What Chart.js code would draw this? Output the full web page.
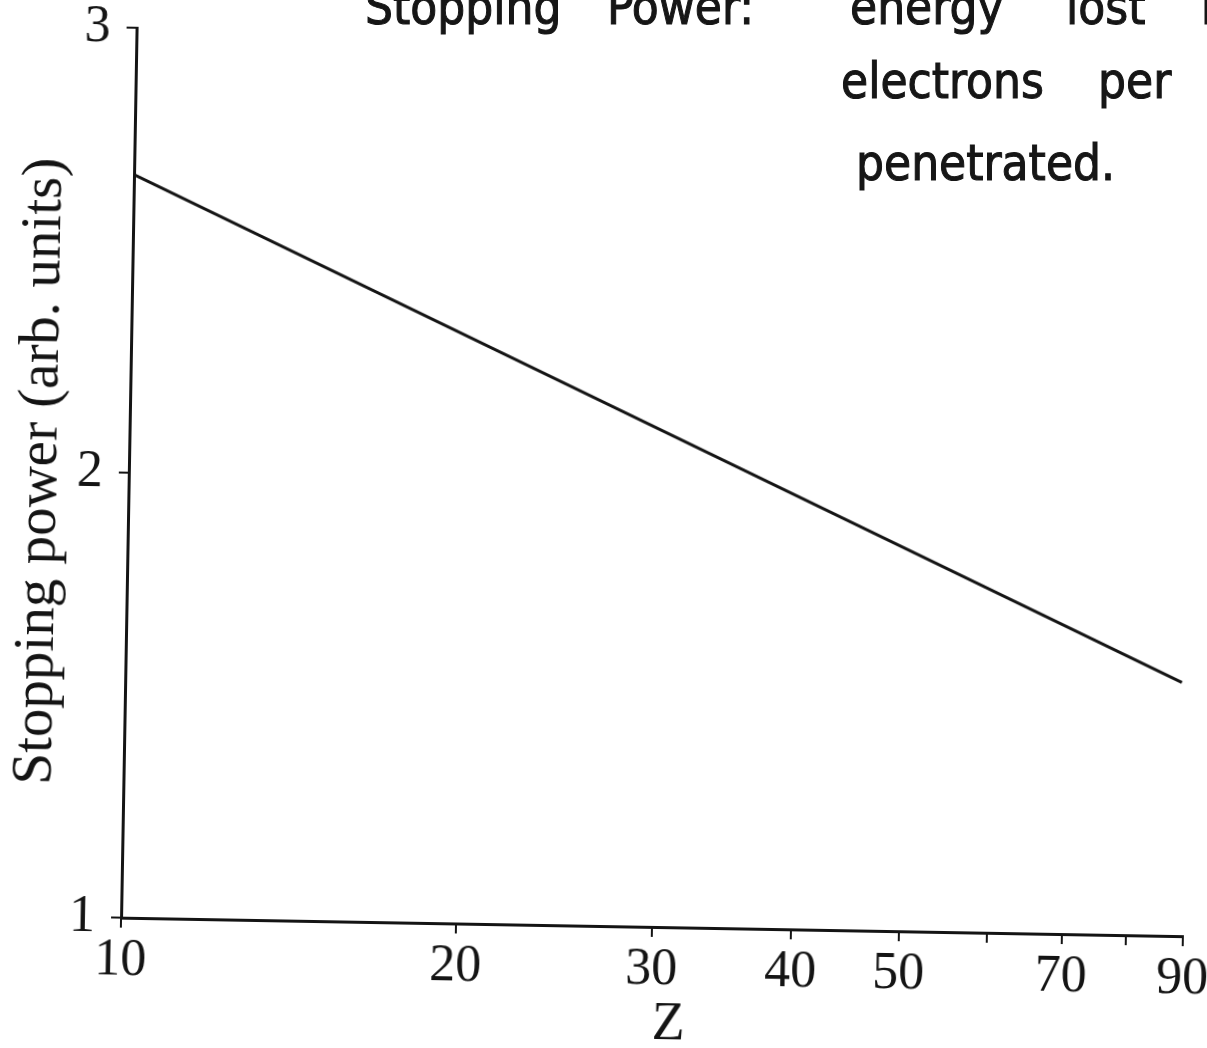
<!DOCTYPE html>
<html>
<head>
<meta charset="utf-8">
<script src="https://cdn.jsdelivr.net/npm/chart.js@4/dist/chart.umd.min.js"></script>
<style>
  html, body { margin: 0; padding: 0; background: #fff; overflow: hidden; }
  #page { position: relative; width: 1207px; height: 1048px; overflow: hidden; }
  /* the scan is turned about one degree clockwise; canvas is a bit wider so the "90" is cut by the page edge */
  #tilt { position: absolute; left: 0; top: 0; width: 1247px; height: 1048px;
          transform: rotate(1deg); transform-origin: 603.5px 524px; }
  .note { position: absolute; font-family: "DejaVu Sans Condensed", "DejaVu Sans", sans-serif;
          font-size: 49px; line-height: 1; color: #161616; white-space: nowrap;
          -webkit-text-stroke: 1px #161616; }
</style>
</head>
<body>
<div id="page">
  <div id="tilt"><canvas id="chart" width="1247" height="1048"></canvas></div>
  <span class="note" style="left:365px; top:-17px;">Stopping</span>
  <span class="note" style="left:607px; top:-17px;">Power:</span>
  <span class="note" style="left:850px; top:-17px;">energy</span>
  <span class="note" style="left:1066px; top:-17px;">lost</span>
  <span class="note" style="left:1201px; top:-17px;">by</span>
  <span class="note" style="left:841px; top:57px;">electrons</span>
  <span class="note" style="left:1098px; top:57px;">per</span>
  <span class="note" style="left:856px; top:139px;">penetrated.</span>
</div>
<script>
// values
const zValues = [10, 89];
const stoppingPower = [2.67, 1.57];

const xTickValues = [10, 20, 30, 40, 50, 60, 70, 80, 90];
const xTickLabels = ['10', '20', '30', '40', '50', '', '70', '', '90'];
const yTickValues = [1, 2, 3];

const ink = '#141414';
const serif = '"Liberation Serif", "Times New Roman", serif';

// x axis title sits a bit right of centre in the original
const zTitle = {
  id: 'zTitle',
  afterDraw(chart) {
    const { ctx, chartArea } = chart;
    ctx.save();
    ctx.font = '54px ' + serif;
    ctx.fillStyle = ink;
    ctx.textAlign = 'center';
    ctx.textBaseline = 'middle';
    ctx.fillText('Z', (chartArea.left + chartArea.right) / 2 + 18, 1024);
    ctx.restore();
  }
};

const points = zValues.map((z, i) => ({ x: z, y: stoppingPower[i] }));

new Chart(document.getElementById('chart'), {
  type: 'line',
  data: {
    datasets: [{
      data: points,
      borderColor: ink,
      borderWidth: 3,
      pointRadius: 0,
      tension: 0,
      fill: false
    }]
  },
  options: {
    responsive: false,
    animation: false,
    layout: { padding: { left: 0, top: 36, right: 57, bottom: 0 } },
    plugins: { legend: { display: false }, tooltip: { enabled: false } },
    scales: {
      x: {
        type: 'logarithmic',
        min: 10,
        max: 90,
        afterBuildTicks: (scale) => { scale.ticks = xTickValues.map(v => ({ value: v })); },
        afterFit: (scale) => { scale.height = 122; scale.paddingRight = 0; scale.paddingLeft = 0; },
        ticks: {
          autoSkip: false,
          maxRotation: 0,
          minRotation: 0,
          padding: 2,
          color: ink,
          font: { family: serif, size: 52 },
          callback: (value, index) => xTickLabels[index]
        },
        grid: { drawOnChartArea: false, drawTicks: true, tickLength: 10, color: ink, lineWidth: 2 },
        border: { display: true, color: ink, width: 3 }
      },
      y: {
        type: 'linear',
        min: 1,
        max: 3,
        afterBuildTicks: (scale) => { scale.ticks = yTickValues.map(v => ({ value: v })); },
        afterFit: (scale) => { scale.width = 128; scale.paddingTop = 0; scale.paddingBottom = 0; },
        ticks: {
          padding: 16,
          color: ink,
          font: { family: serif, size: 52 }
        },
        grid: { drawOnChartArea: false, drawTicks: true, tickLength: 10, color: ink, lineWidth: 2 },
        border: { display: true, color: ink, width: 3 },
        title: {
          display: true,
          text: 'Stopping power (arb. units)',
          color: ink,
          font: { family: serif, size: 57 },
          padding: { top: 6, bottom: 0 }
        }
      }
    }
  },
  plugins: [zTitle]
});
</script>
</body>
</html>
